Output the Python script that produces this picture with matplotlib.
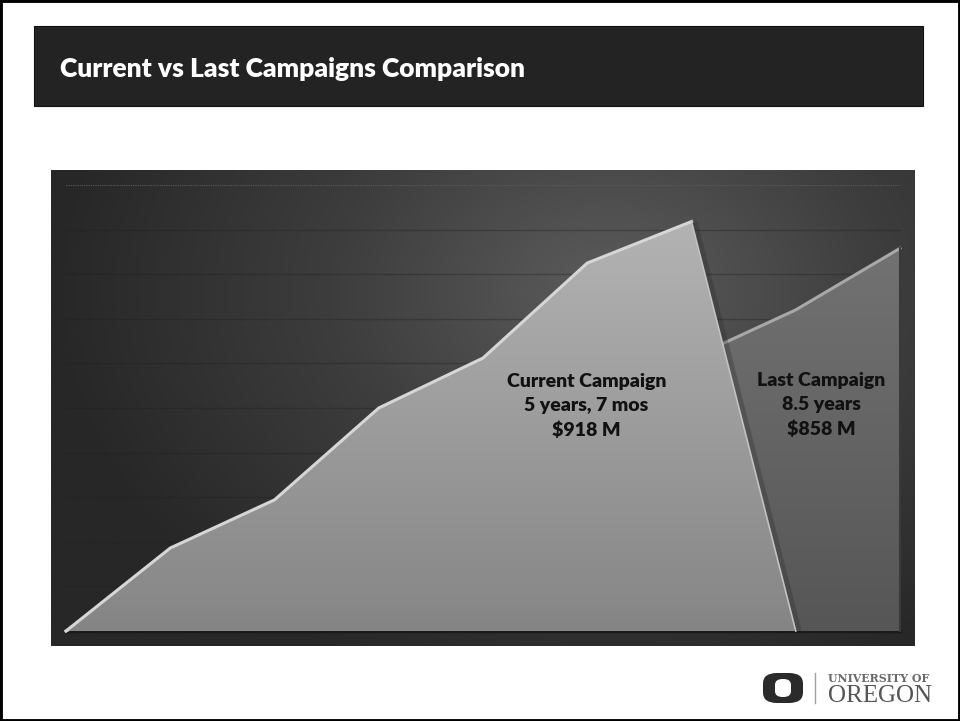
import matplotlib.pyplot as plt
import numpy as np
from matplotlib.colors import LinearSegmentedColormap
from matplotlib.patches import Polygon, Rectangle, FancyBboxPatch

# cumulative dollars raised (millions) at each campaign year mark
years = [0, 1, 2, 3, 4, 5, 6, 7, 8]
current_campaign = [0, 186, 294, 500, 612, 825, 918, 0]
last_campaign = [0, 95, 190, 290, 390, 500, 612, 720, 858]

title = "Current vs Last Campaigns Comparison"
current_label = "Current Campaign\n5 years, 7 mos\n$918 M"
last_label = "Last Campaign\n8.5 years\n$858 M"

W, H = 960, 721
fig = plt.figure(figsize=(W / 100, H / 100), dpi=100)
fig.patch.set_facecolor("white")


def fx(px):
    return px / W


def fy(py):
    return 1 - py / H


# slide frame
fig.patches.append(Rectangle((0, 0), 1, 1, transform=fig.transFigure,
                             fill=False, edgecolor="black", linewidth=3.5))

# title banner
fig.patches.append(Rectangle((fx(34), fy(106)), fx(923) - fx(34), fy(26) - fy(106),
                             transform=fig.transFigure, facecolor="#232323",
                             edgecolor="#111111", linewidth=0.8))
fig.text(fx(60), fy(77), title, color="white", fontsize=19,
         fontweight="heavy", family="Lato", va="baseline", ha="left")

# chart box: x from 51 to 915 px, y from 170 to 646 px
left, right, top, bottom = 51, 915, 170, 646
ax = fig.add_axes([fx(left), fy(bottom), fx(right) - fx(left), fy(top) - fy(bottom)])

x0_px, x8_px = 66, 900
base_px, top_px = 631, 185
step = (x8_px - x0_px) / 8
unit = (base_px - top_px) / 1000
xlim = (-(x0_px - left) / step, 8 + (right - x8_px) / step)
ylim = (-(bottom - base_px) / unit, 1000 + (top_px - top) / unit)
ax.set_xlim(*xlim)
ax.set_ylim(*ylim)
ax.axis("off")

# radial background glow
gx = np.linspace(left, right, 400)
gy = np.linspace(bottom, top, 300)
GX, GY = np.meshgrid(gx, gy)
r = np.sqrt(((GX - 610) / 560) ** 2 + ((GY - 290) / 420) ** 2)
bg_cmap = LinearSegmentedColormap.from_list("bg", ["#5c5c5c", "#3d3d3d", "#272727"])
ax.imshow(np.clip(r, 0, 1), cmap=bg_cmap, vmin=0, vmax=1, aspect="auto",
          extent=(xlim[0], xlim[1], ylim[0], ylim[1]), origin="lower", zorder=0)

# gridlines
for v in range(100, 1000, 100):
    ax.plot([0, 8], [v, v], color="#202020", alpha=0.35, lw=1.0, zorder=1)
ax.plot([0, 8], [1000, 1000], color="#5a5a5a", lw=0.8, ls=(0, (1, 1)), zorder=1)
ax.plot([0, 8], [0, 0], color="#1a1a1a", lw=2.5, zorder=1)


def gradient_area(xs, ys, c_top, c_bottom, z):
    verts = [(xs[0], 0)] + list(zip(xs, ys)) + [(xs[-1], 0)]
    poly = Polygon(verts, closed=True, facecolor="none", edgecolor="none",
                   transform=ax.transData, zorder=z)
    ax.add_patch(poly)
    cmap = LinearSegmentedColormap.from_list("g", [c_bottom, c_top])
    grad = np.linspace(0, 1, 256).reshape(-1, 1)
    im = ax.imshow(grad, cmap=cmap, aspect="auto", origin="lower",
                   extent=(xlim[0], xlim[1], 0, max(ys)), zorder=z)
    im.set_clip_path(poly)
    return poly


# last campaign (behind)
gradient_area(years, last_campaign, "#727272", "#565656", 2)
ax.plot(years, last_campaign, color="#a8a8a8", lw=2.2, zorder=2.5,
        solid_joinstyle="round")
ax.plot([8, 8], [0, last_campaign[-1]], color="#3a3a3a", lw=1.5, zorder=2.5)

# shadow cast by the current campaign's falling edge
cx = years[:len(current_campaign)]
ax.plot(np.array(cx[-2:]) + 0.03, current_campaign[-2:], color="#2a2a2a",
        lw=4, alpha=0.3, zorder=3, solid_capstyle="butt")

# current campaign (front)
gradient_area(cx, current_campaign, "#b3b3b3", "#858585", 4)
ax.plot(cx[:-1], current_campaign[:-1], color="#d6d6d6", lw=2.2, zorder=4.5,
        solid_joinstyle="round")
ax.plot(cx[-2:], current_campaign[-2:], color="#c2c2c2", lw=1.2, zorder=4.5)

ax.text(4.99, 504, current_label, ha="center", va="center", fontsize=14,
        fontweight="heavy", family="Lato", color="#111111", linespacing=1.5,
        zorder=6)
ax.text(7.247, 506, last_label, ha="center", va="center", fontsize=14,
        fontweight="heavy", family="Lato", color="#111111", linespacing=1.5,
        zorder=6)

# university wordmark, bottom right
fig.patches.append(FancyBboxPatch((fx(763), fy(703)), fx(803) - fx(763), fy(673) - fy(703),
                                  boxstyle="round,pad=0,rounding_size=0.0145",
                                  transform=fig.transFigure, facecolor="#2b2b2b",
                                  edgecolor="none"))
fig.patches.append(FancyBboxPatch((fx(775), fy(697)), fx(791) - fx(775), fy(679) - fy(697),
                                  boxstyle="round,pad=0,rounding_size=0.008",
                                  transform=fig.transFigure, facecolor="white",
                                  edgecolor="none"))
fig.add_artist(plt.Line2D([fx(815), fx(815)], [fy(673), fy(703)],
                          transform=fig.transFigure, color="#a0a0a0", lw=1))
fig.text(fx(828), fy(678), "UNIVERSITY OF", family="DejaVu Serif", fontsize=7.9,
         fontweight="bold", color="#6a6a6a", ha="left", va="center")
fig.text(fx(828), fy(702), "OREGON", family="Liberation Serif", fontsize=18,
         color="#555555", ha="left", va="baseline")

fig.savefig("out.png", dpi=100)
